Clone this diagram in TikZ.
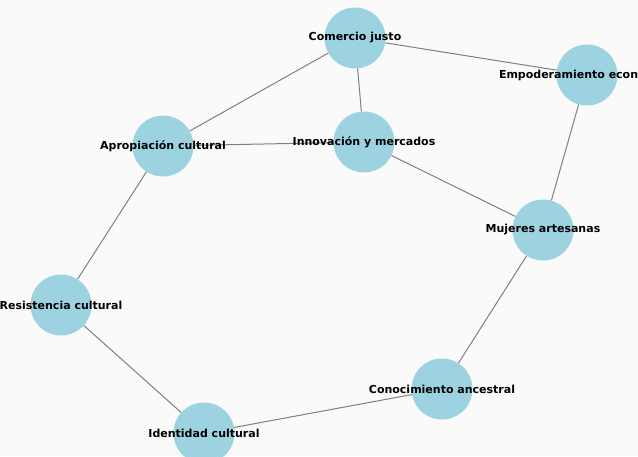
\documentclass[tikz,border=0pt]{standalone}
\usepackage{fontspec}
\setsansfont{DejaVu Sans}
\definecolor{nodeblue}{RGB}{157,211,225}
\definecolor{edgegray}{RGB}{128,128,128}
\definecolor{paper}{RGB}{250,250,250}
\begin{document}
\begin{tikzpicture}[x=1pt,y=-1pt,
  topic/.style={circle,fill=nodeblue,minimum size=61pt,inner sep=0pt},
  lbl/.style={font=\sffamily\bfseries\fontsize{11}{12}\selectfont,text=black},
  link/.style={draw=edgegray,line width=1pt}]
% Canvas
\useasboundingbox (0,0) rectangle (638,456);
\fill[paper] (0,0) rectangle (638,456);
\clip (0,0) rectangle (638,456);

% Nodes
\node[topic] (comercio) at (355,38) {};
\node[topic] (empodera) at (587,75) {};
\node[topic] (apropia) at (163,146) {};
\node[topic] (innova) at (364,142) {};
\node[topic] (mujeres) at (543,230) {};
\node[topic] (resiste) at (61,305) {};
\node[topic] (conoce) at (442,389) {};
\node[topic] (identidad) at (204,433) {};

% Edges
\draw[link] (comercio) -- (empodera);
\draw[link] (comercio) -- (apropia);
\draw[link] (comercio) -- (innova);
\draw[link] (apropia) -- (innova);
\draw[link] (innova) -- (mujeres);
\draw[link] (empodera) -- (mujeres);
\draw[link] (mujeres) -- (conoce);
\draw[link] (conoce) -- (identidad);
\draw[link] (identidad) -- (resiste);
\draw[link] (resiste) -- (apropia);

% Labels
\node[lbl] (tcomercio) at (comercio) {Comercio justo};
\node[lbl] (tempodera) at (empodera) {Empoderamiento económico};
\node[lbl] (tapropia) at (apropia) {Apropiación cultural};
\node[lbl] (tinnova) at (innova) {Innovación y mercados};
\node[lbl] (tmujeres) at (mujeres) {Mujeres artesanas};
\node[lbl] (tresiste) at (resiste) {Resistencia cultural};
\node[lbl] (tconoce) at (conoce) {Conocimiento ancestral};
\node[lbl] (tidentidad) at (identidad) {Identidad cultural};
\end{tikzpicture}
\end{document}
